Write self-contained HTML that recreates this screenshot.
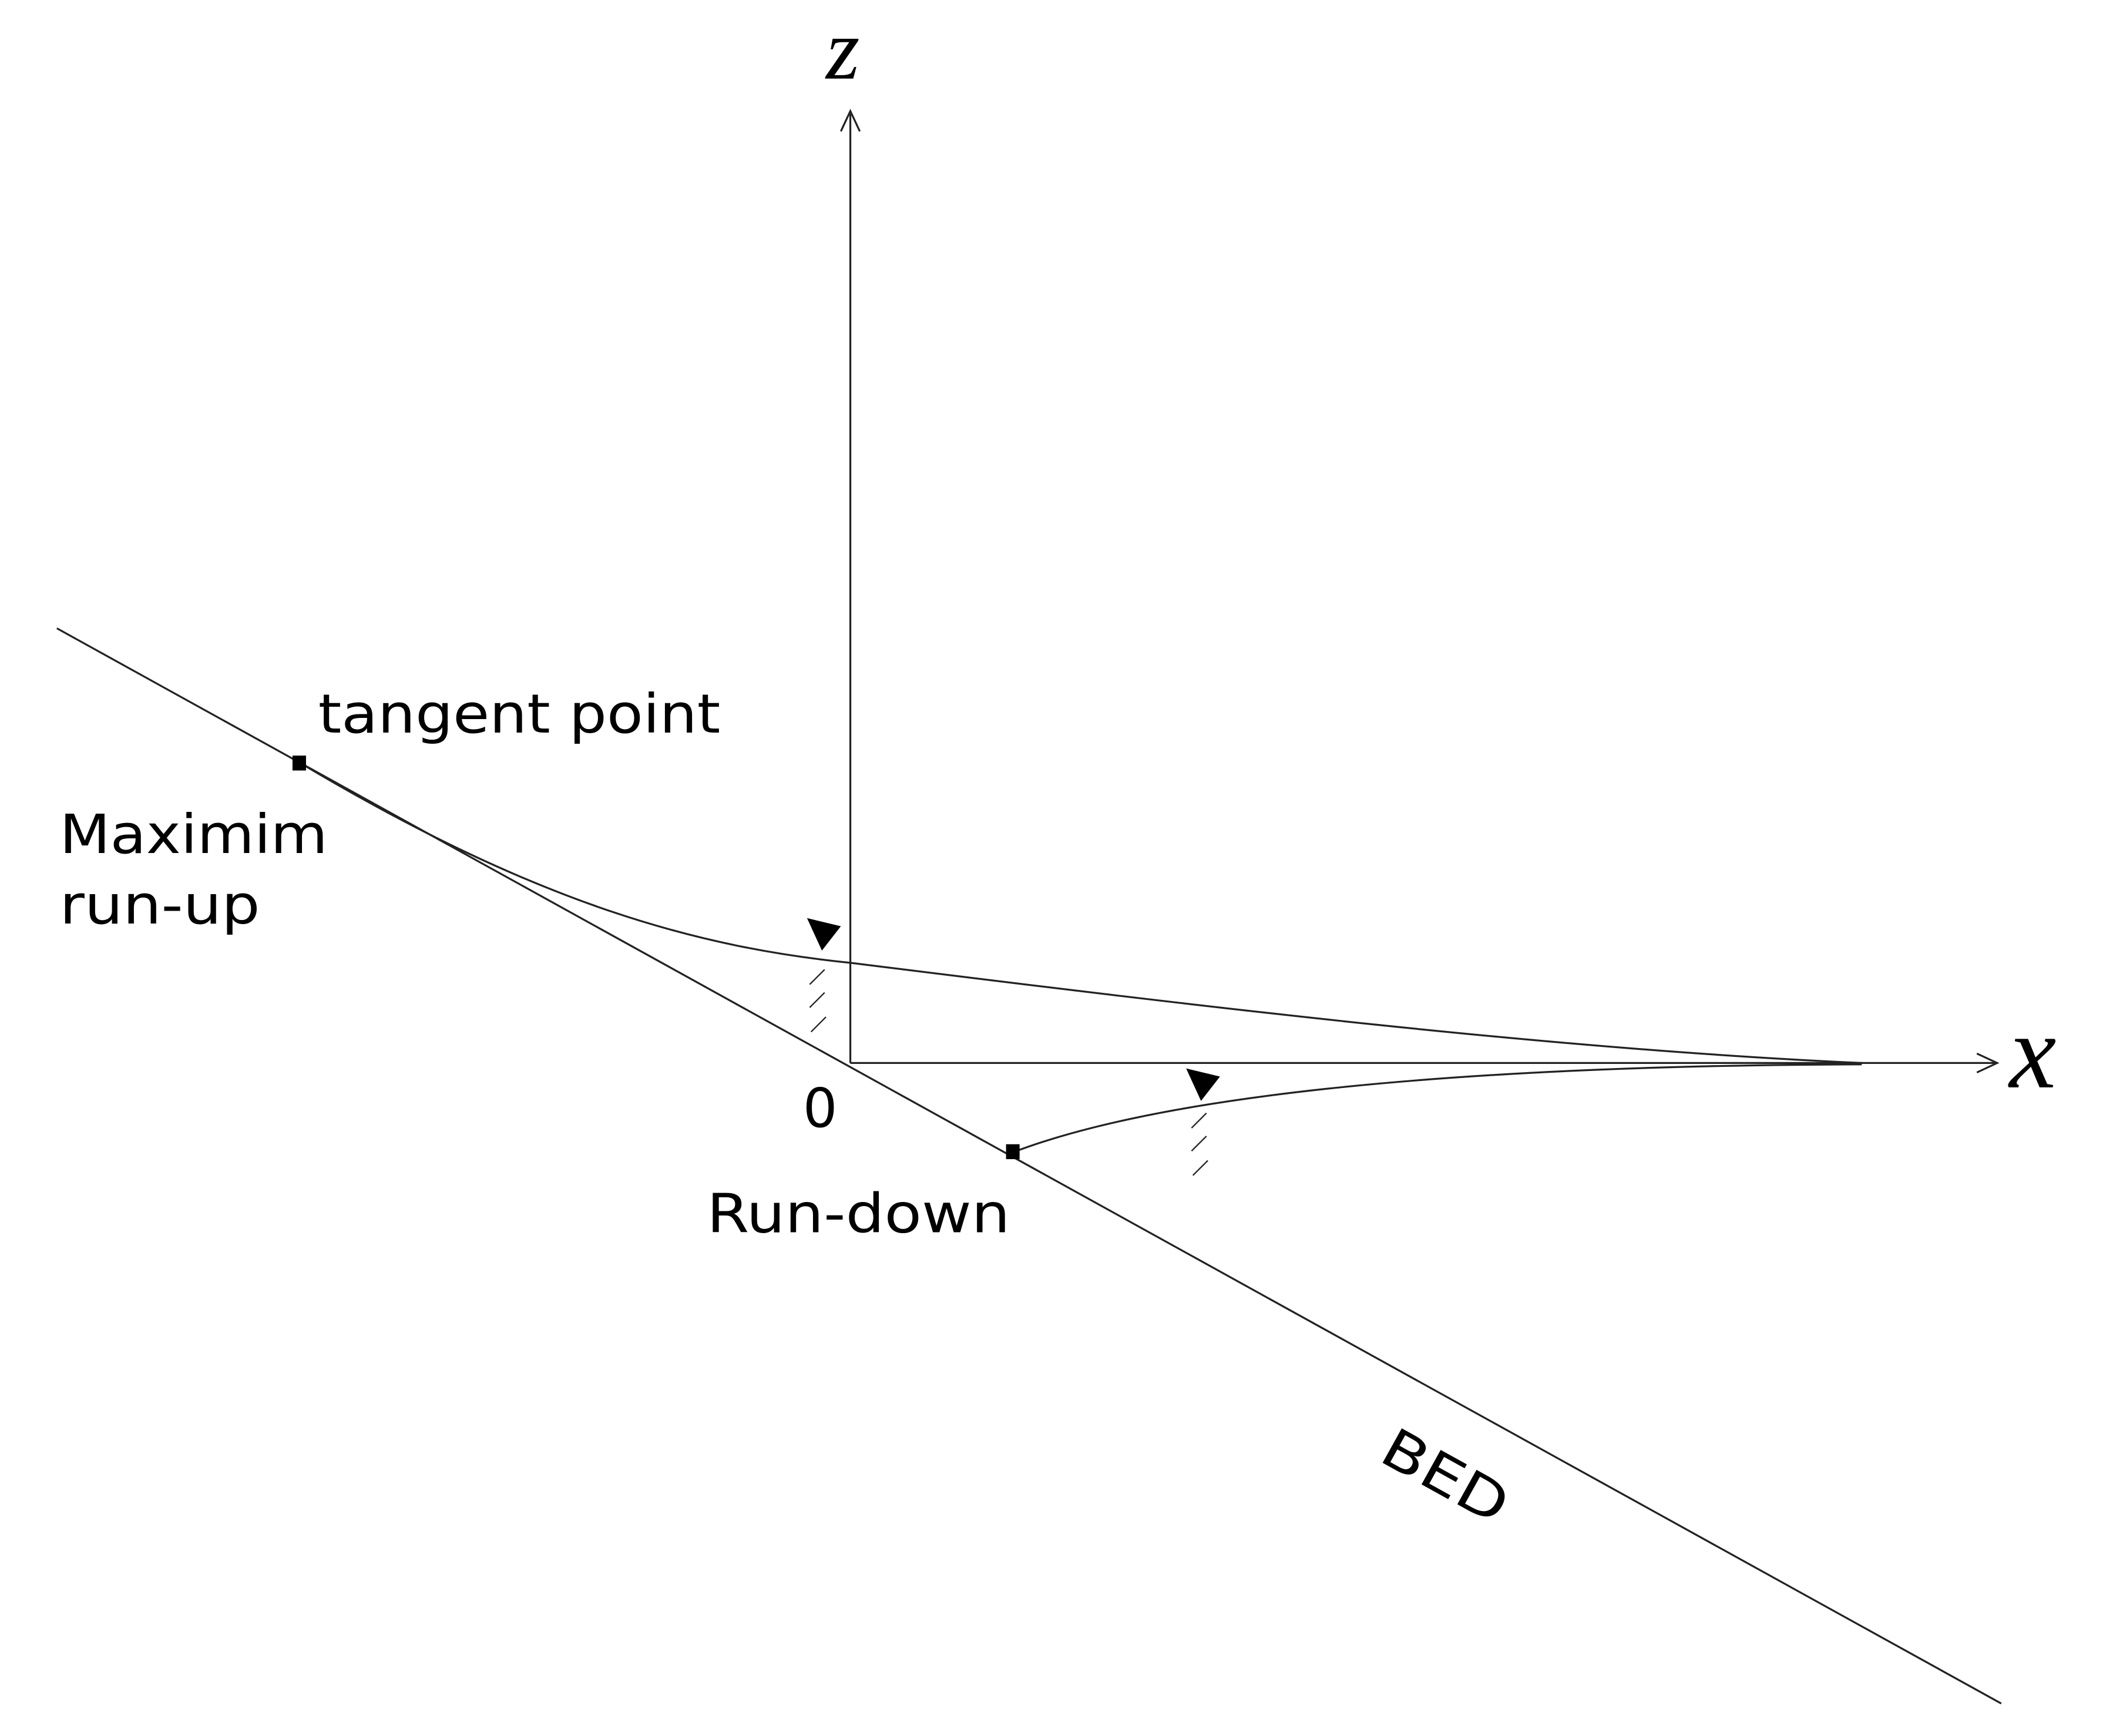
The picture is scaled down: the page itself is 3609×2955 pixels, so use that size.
<!DOCTYPE html>
<html><head><meta charset="utf-8"><style>html,body{margin:0;padding:0;background:#fff}svg{display:block}</style></head>
<body>
<svg width="3609" height="2955" viewBox="0 0 1565.7 1282" xmlns="http://www.w3.org/2000/svg">
<g stroke="#222" stroke-width="1.4" fill="none">
<line x1="628" y1="785" x2="628" y2="84"/>
<polyline points="621,97 628,82 635,97"/>
<line x1="628" y1="785" x2="1474" y2="785"/>
<polyline points="1460,778 1475,785 1460,792"/>
<line x1="42" y1="464" x2="1478" y2="1258"/>
<path d="M221,563 C400,670 520,700 628,711 C900,745 1150,775 1375,785"/>
<path d="M748,851 C850,812 1050,787 1375,786"/>
<g stroke-width="1">
<line x1="598" y1="727" x2="609" y2="716"/>
<line x1="598" y1="744" x2="609" y2="733"/>
<line x1="599" y1="762" x2="610" y2="751"/>
<line x1="880" y1="833" x2="891" y2="822"/>
<line x1="880" y1="850" x2="891" y2="839"/>
<line x1="881" y1="868" x2="892" y2="857"/>
</g>
</g>
<polygon points="596,678 621,684 607,702" fill="#000"/>
<polygon points="876,789 901,795 887,813" fill="#000"/>
<rect x="216" y="558" width="10" height="11" fill="#000"/>
<rect x="743" y="845" width="10" height="11" fill="#000"/>
<g font-family="DejaVu Sans, Liberation Sans, sans-serif" font-size="40" fill="#000">
<text x="235" y="541" textLength="297" lengthAdjust="spacingAndGlyphs">tangent point</text>
<text x="44" y="630" textLength="198" lengthAdjust="spacingAndGlyphs">Maximim</text>
<text x="44" y="682" textLength="148" lengthAdjust="spacingAndGlyphs">run-up</text>
<text x="593" y="832">0</text>
<text x="522" y="910" textLength="224" lengthAdjust="spacingAndGlyphs">Run-down</text>
<text transform="translate(1017,1078) rotate(29)" textLength="100" lengthAdjust="spacingAndGlyphs">BED</text>
</g>
<g font-family="Liberation Serif, serif" font-style="italic" fill="#000">
<text x="610" y="58" font-size="64">z</text>
<text x="1484" y="803" font-size="78">x</text>
</g>
</svg>
</body></html>
